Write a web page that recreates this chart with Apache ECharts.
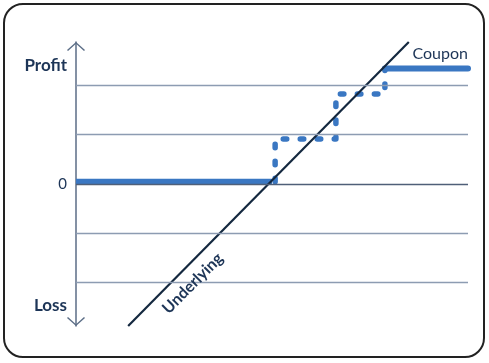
<!DOCTYPE html>
<html>
<head>
<meta charset="utf-8">
<script src="https://cdn.jsdelivr.net/npm/echarts@6/dist/echarts.min.js"></script>
<style>
html,body{margin:0;padding:0;background:#fff;}
#frame{position:absolute;left:3px;top:3px;width:478px;height:351px;border:2px solid #222;border-radius:20px;}
#chart{position:absolute;left:0;top:0;width:489px;height:363px;}
</style>
</head>
<body>
<div id="frame"></div>
<div id="chart"></div>
<script>
// ---- data ----
const yRange = [-2.884, 2.876];
const xRange = [0, 100];
const gridLevels = [-2, -1, 1, 2];
const zeroLevel = 0;
const yLabelValues = [-2.46, 0, 2.39];
const yLabelTexts = ['Loss', '0', 'Profit'];
const payoffFlat = [[0, 0.04], [50, 0.04]];
const payoffSteps = [[50.8, 0.04], [50.8, 0.91], [66.3, 0.91], [66.3, 1.82], [78.8, 1.82], [78.8, 2.34]];
const payoffCoupon = [[78.8, 2.34], [100, 2.34]];
const underlying = [[13.3, -2.884], [84.9, 2.876]];
const underlyingLabelAt = [[26.9, -1.79]];
const couponLabel = 'Coupon';
const underlyingLabel = 'Underlying';

const navy = '#1d3557';
const blue = '#3a77c2';
const chart = echarts.init(document.getElementById('chart'));
const labelMap = {};
yLabelValues.forEach((v, i) => labelMap[v] = yLabelTexts[i]);

chart.setOption({
  animation: false,
  grid: {left: 76, right: 21, top: 42, bottom: 37},
  xAxis: {type: 'value', min: xRange[0], max: xRange[1], show: false},
  yAxis: {
    type: 'value', min: yRange[0], max: yRange[1],
    splitLine: {show: false},
    axisTick: {show: false},
    axisLine: {
      show: true,
      lineStyle: {color: '#5b6d86', width: 1.5},
      symbol: ['path://M0,0 L9,8 L8,9 L0,1.8 L-8,9 L-9,8 Z', 'path://M0,0 L9,8 L8,9 L0,1.8 L-8,9 L-9,8 Z'],
      symbolSize: [18, 9],
      symbolOffset: [4.5, -4.5]
    },
    axisLabel: {
      customValues: yLabelValues,
      formatter: v => {
        const t = labelMap[v];
        if (t === undefined) return '';
        return t === '0' ? '{n|0}' : '{b|' + t + '}';
      },
      margin: 9,
      rich: {
        b: {fontWeight: 'bold', fontSize: 17, color: navy, fontFamily: 'Lato'},
        n: {fontSize: 15, color: navy, fontFamily: 'Lato'}
      }
    }
  },
  series: [
    {
      type: 'line', data: [], silent: true,
      markLine: {
        silent: true, symbol: 'none', label: {show: false},
        data: gridLevels.map(v => ({yAxis: v, lineStyle: {color: '#8d9cb2', width: 1.3, type: 'solid'}}))
          .concat([{yAxis: zeroLevel, lineStyle: {color: '#4f5f78', width: 1.3, type: 'solid'}}])
      }
    },
    {
      type: 'line', data: payoffFlat, symbol: 'none', z: 3,
      lineStyle: {color: blue, width: 6, cap: 'butt'}
    },
    {
      type: 'line', data: payoffSteps, symbol: 'none', z: 3,
      lineStyle: {color: blue, width: 5.5, type: [3.5, 13.5], cap: 'round', join: 'round'}
    },
    {
      type: 'line', data: payoffCoupon, symbol: 'none', z: 3,
      lineStyle: {color: blue, width: 6, cap: 'round'}
    },
    {
      type: 'line', data: underlying, symbol: 'none', z: 4,
      lineStyle: {color: '#14283f', width: 2.2}
    },
    {
      type: 'scatter', data: [payoffCoupon[payoffCoupon.length - 1]], symbolSize: 0, z: 5,
      itemStyle: {opacity: 1},
      label: {
        show: true, formatter: couponLabel, position: 'top', align: 'right', distance: 7,
        color: navy, fontFamily: 'Lato', fontSize: 16
      }
    },
    {
      type: 'scatter', data: underlyingLabelAt, symbolSize: 0, z: 5,
      itemStyle: {opacity: 1},
      label: {
        show: true, formatter: underlyingLabel, position: 'inside', rotate: 45,
        offset: [0, 16], color: navy, fontFamily: 'Lato', fontSize: 16, fontWeight: 'bold'
      }
    }
  ]
});
</script>
</body>
</html>
